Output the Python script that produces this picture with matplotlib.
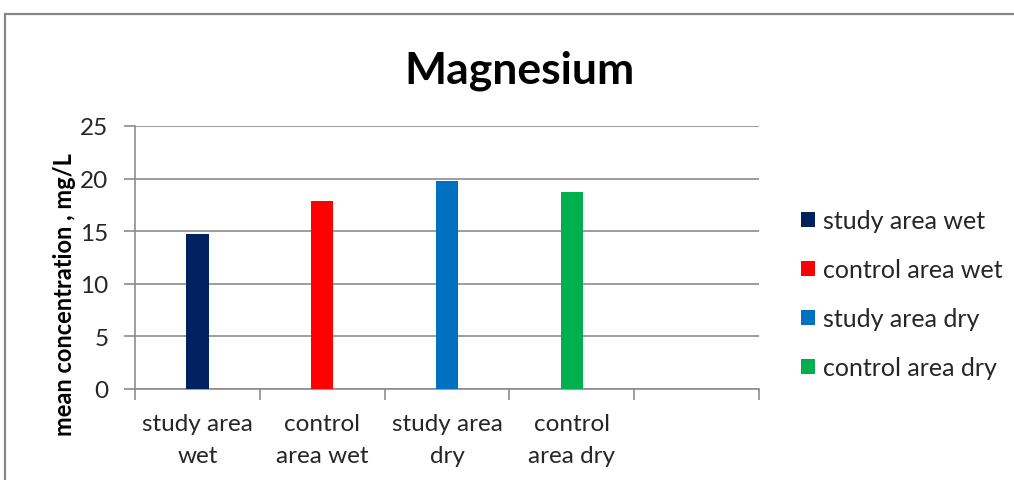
import matplotlib
matplotlib.use('Agg')
import matplotlib.pyplot as plt
from matplotlib.patches import Rectangle

plt.rcParams['font.family'] = ['Lato', 'DejaVu Sans']

#data
#============================================================
categories = ['study area\nwet', 'control\narea wet', 'study area\ndry', 'control\narea dry']
series_names = ['study area wet', 'control area wet', 'study area dry', 'control area dry']
mg_values = [14.7, 17.9, 19.8, 18.7]
colors = ['#002060', '#FF0000', '#0070C0', '#00B050']
n_slots = 5
#============================================================

fig = plt.figure(figsize=(10.14, 4.81), dpi=100)
ax = fig.add_axes([0.1331, 0.1892, 0.6154, 0.5468])

for i, (name, val, col) in enumerate(zip(series_names, mg_values, colors)):
    ax.bar(i + 1, val, width=0.18, color=col, label=name, zorder=3)

ax.set_xlim(0.5, n_slots + 0.5)
ax.set_ylim(0, 25)
ax.set_yticks(range(0, 26, 5))
ax.yaxis.grid(True, color='#8c8c8c', linewidth=1.2, zorder=0)

ax.set_xticks(range(1, len(categories) + 1))
ax.set_xticklabels(categories, fontsize=17.5, color='#262626', linespacing=1.65)
ax.set_xticks([x + 0.5 for x in range(n_slots + 1)], minor=True)
ax.tick_params(axis='x', which='major', length=0, pad=17)
ax.tick_params(axis='x', which='minor', length=8, color='#8c8c8c', width=1.2)
ax.tick_params(axis='y', length=8, color='#8c8c8c', width=1.2, labelsize=17.5,
               labelcolor='#262626', pad=11)

for s in ['top', 'right']:
    ax.spines[s].set_visible(False)
for s in ['left', 'bottom']:
    ax.spines[s].set_color('#8c8c8c')
    ax.spines[s].set_linewidth(1.2)

fig.text(0.512, 0.8274, 'Magnesium', fontsize=32, fontweight='bold',
         ha='center', va='baseline', color='black')
fig.text(0.064, 0.387, 'mean concentration , mg/L', fontsize=17, fontweight='bold',
         rotation=90, ha='center', va='center', color='black')

leg = ax.legend(loc='center left', bbox_to_anchor=(1.068, 0.36), frameon=False,
                borderaxespad=0, borderpad=0,
                fontsize=18, handlelength=0.55, handleheight=0.55,
                handletextpad=0.3, labelspacing=1.04, labelcolor='#262626')

fig.patches.append(Rectangle((0.0045, -0.05), 1.1, 1.0 + 0.05 - 15 / 481,
                             transform=fig.transFigure, fill=False,
                             edgecolor='#878787', linewidth=1.6))

plt.savefig('out.png', dpi=100)
